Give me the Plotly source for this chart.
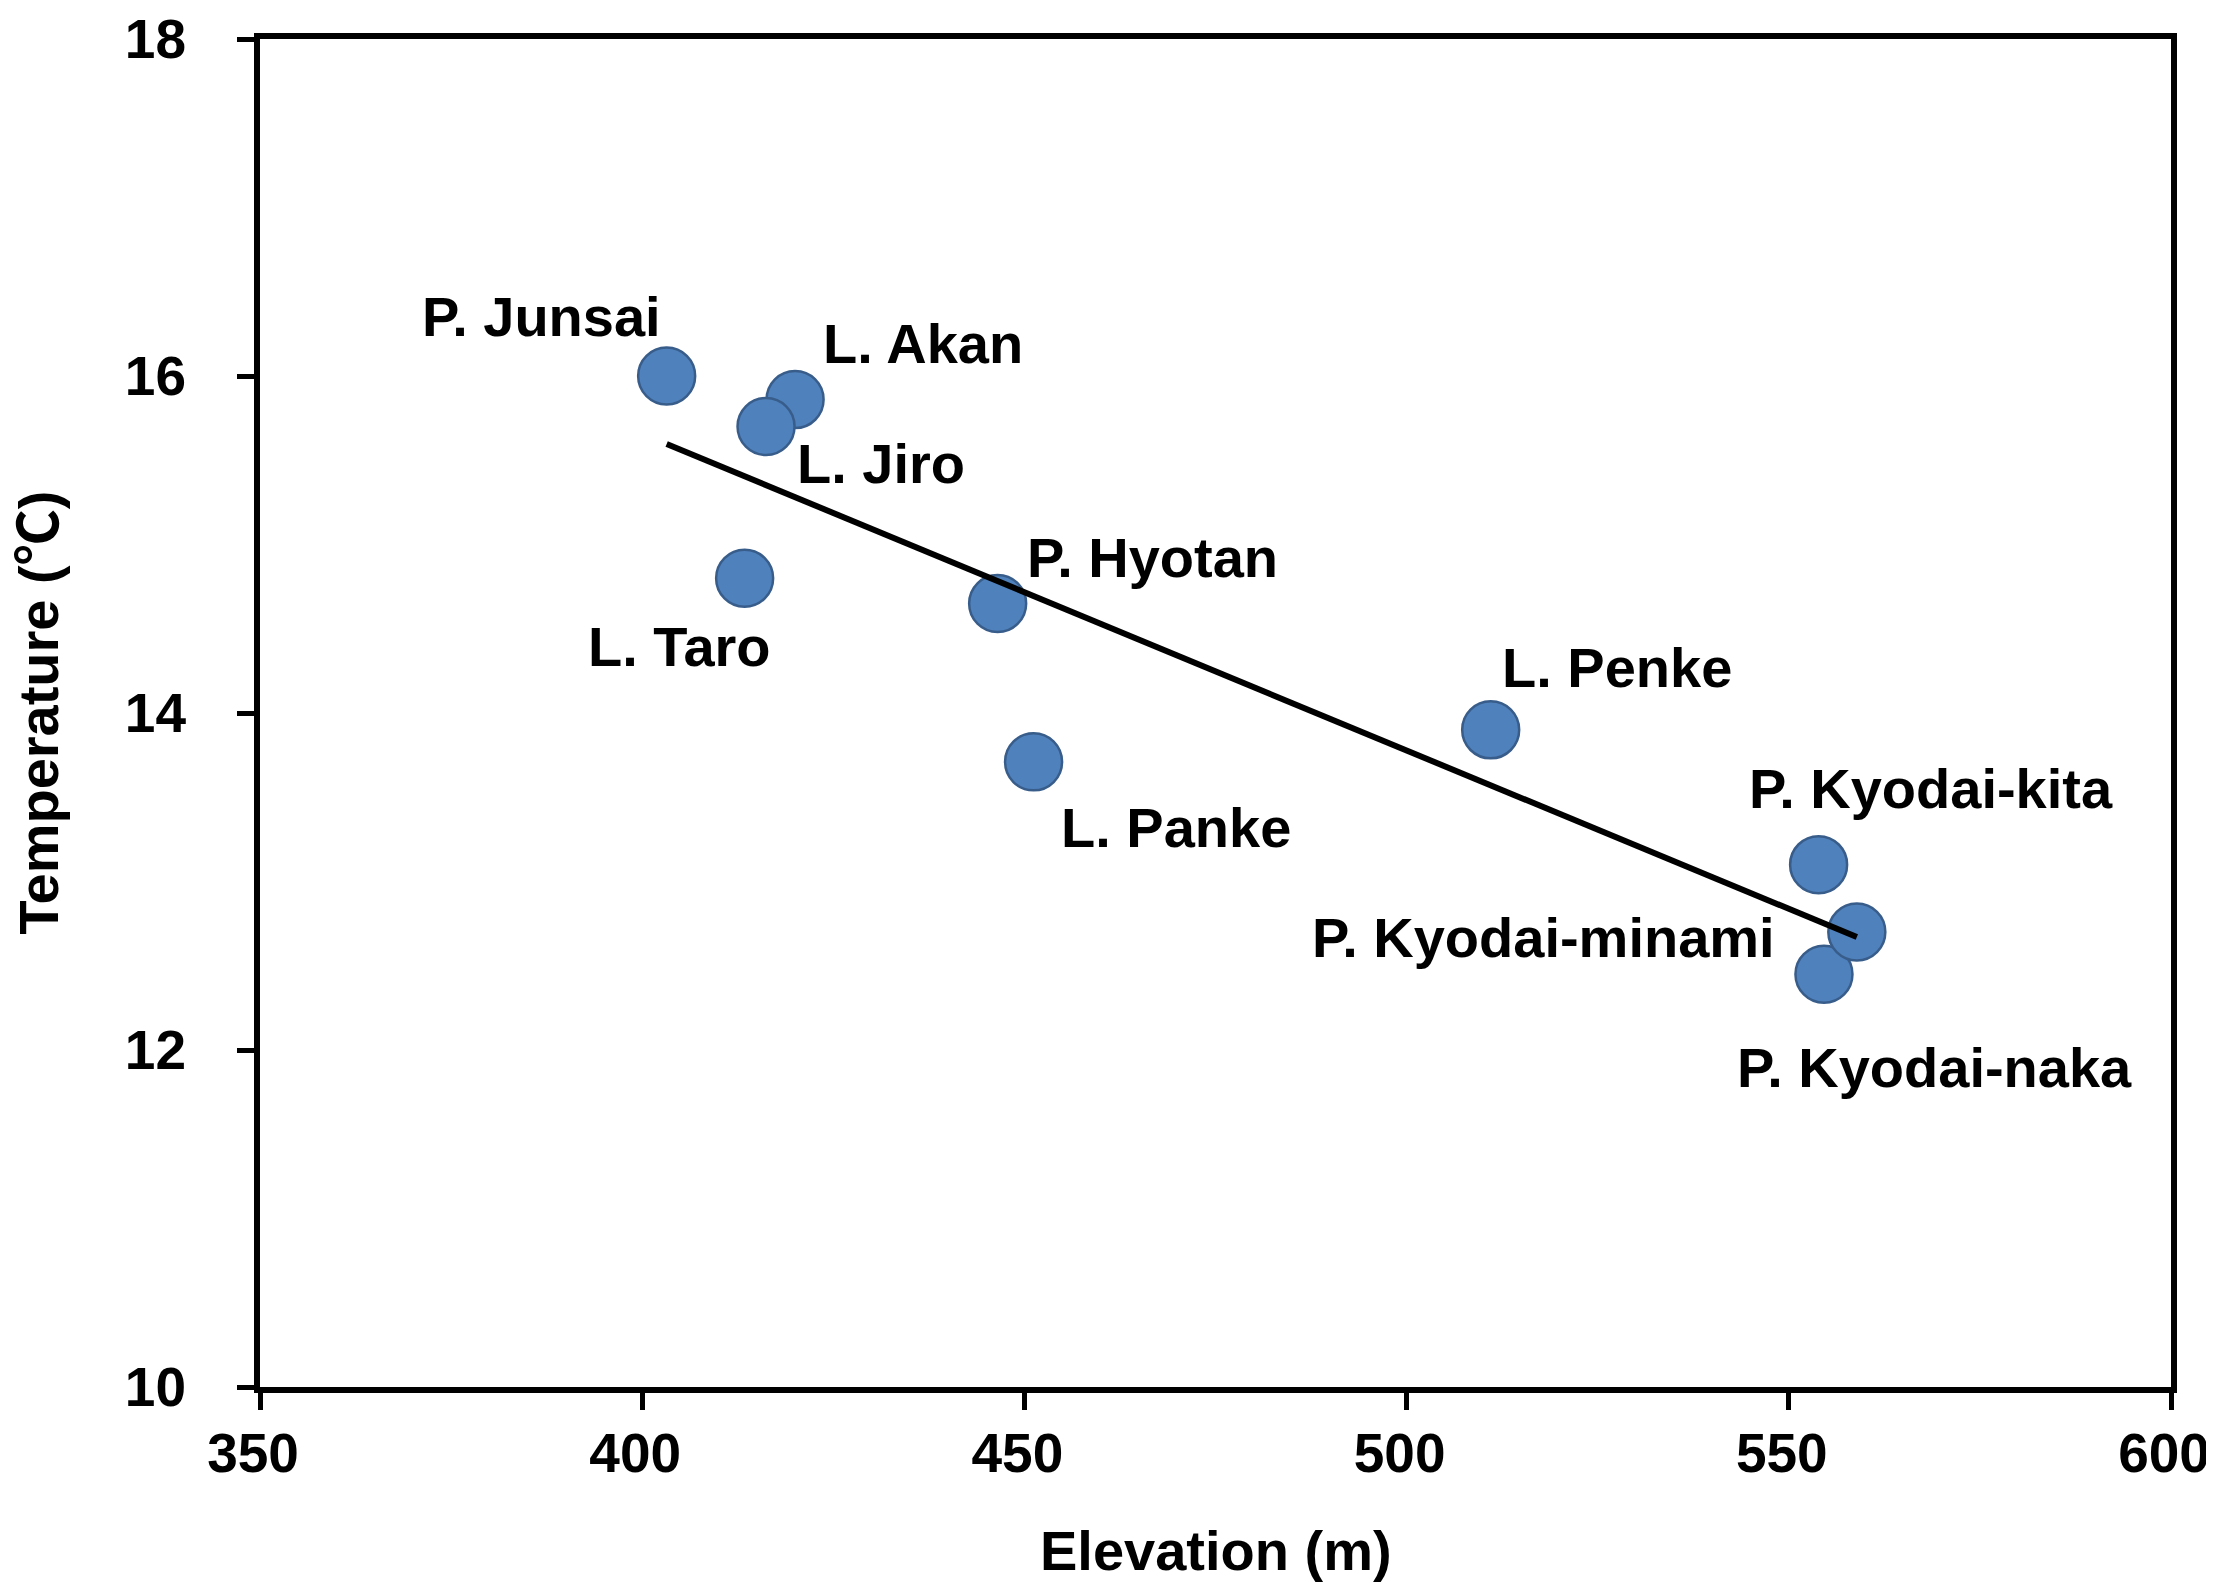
import numpy as np
import plotly.graph_objects as go

# ---- data ----
sites = ["P. Kyodai-naka", "P. Junsai", "L. Akan", "L. Jiro", "L. Taro", "P. Hyotan",
         "L. Panke", "L. Penke", "P. Kyodai-kita", "P. Kyodai-minami"]
elevation = [554.6, 403.2, 420.0, 416.2, 413.4, 446.5, 451.2, 511.0, 553.9, 558.9]
temperature = [12.45, 16.0, 15.86, 15.70, 14.80, 14.65, 13.71, 13.90, 13.10, 12.70]

x_ticks = [350, 400, 450, 500, 550, 600]
y_ticks = [10, 12, 14, 16, 18]

# label offsets (pixels) relative to each point
label_dx = {"P. Junsai": -125, "L. Akan": 128, "L. Jiro": 115, "L. Taro": -65,
            "P. Hyotan": 155, "L. Panke": 142, "L. Penke": 126,
            "P. Kyodai-kita": 112, "P. Kyodai-minami": -313, "P. Kyodai-naka": 111}
label_dy = {"P. Junsai": -60, "L. Akan": -56, "L. Jiro": 37, "L. Taro": 68,
            "P. Hyotan": -46, "L. Panke": 66, "L. Penke": -62,
            "P. Kyodai-kita": -76, "P. Kyodai-minami": 5, "P. Kyodai-naka": 93}

FONT = "Liberation Sans, Arial, Noto Sans CJK JP, sans-serif"

# linear regression trend line (as in the original spreadsheet)
slope, intercept = np.polyfit(elevation, temperature, 1)
tx = [min(elevation), max(elevation)]
ty = [slope * v + intercept for v in tx]

fig = go.Figure()
fig.add_trace(go.Scatter(
    x=elevation, y=temperature, mode="markers",
    marker=dict(size=57, color="#4F81BD", line=dict(color="#385D8A", width=2.5)),
    hoverinfo="text", text=sites,
))
fig.add_trace(go.Scatter(
    x=tx, y=ty, mode="lines", line=dict(color="black", width=6), hoverinfo="skip",
))

for s, xv, yv in zip(sites, elevation, temperature):
    fig.add_annotation(
        x=xv, y=yv, xref="x", yref="y", text=s, showarrow=False,
        xshift=label_dx[s], yshift=-label_dy[s],
        xanchor="center", yanchor="middle",
        font=dict(family=FONT, size=56, color="black", weight="bold"),
    )

fig.add_annotation(
    x=0.5, y=-0.1462, xref="paper", yref="paper", text="Elevation (m)",
    showarrow=False, xanchor="center", yanchor="bottom",
    font=dict(family=FONT, size=56, color="black", weight="bold"),
)
fig.add_annotation(
    x=-0.1164, y=0.5, xref="paper", yref="paper", text="Temperature (℃)",
    showarrow=False, textangle=-90, xanchor="center", yanchor="middle",
    font=dict(family=FONT, size=56, color="black", weight="bold"),
)

axis_common = dict(
    showline=True, linecolor="black", linewidth=6, mirror=True,
    ticks="outside", ticklen=17, tickwidth=5, tickcolor="black",
    showgrid=False, zeroline=False, ticklabeloverflow="allow", automargin=False,
    tickfont=dict(family=FONT, size=55, color="black", weight="bold"),
)
fig.update_xaxes(range=[350, 600], tickvals=x_ticks, ticklabelstandoff=-4,
                 ticklabelshift=-7, **axis_common)
fig.update_yaxes(range=[10, 18], tickvals=y_ticks, ticklabelstandoff=40, **axis_common)

fig.update_layout(
    width=2206, height=1577, autosize=False,
    margin=dict(l=252, r=43, t=31, b=198, pad=0),
    plot_bgcolor="white", paper_bgcolor="white",
    showlegend=False,
    font=dict(family=FONT),
)

fig.write_html("out.html")
